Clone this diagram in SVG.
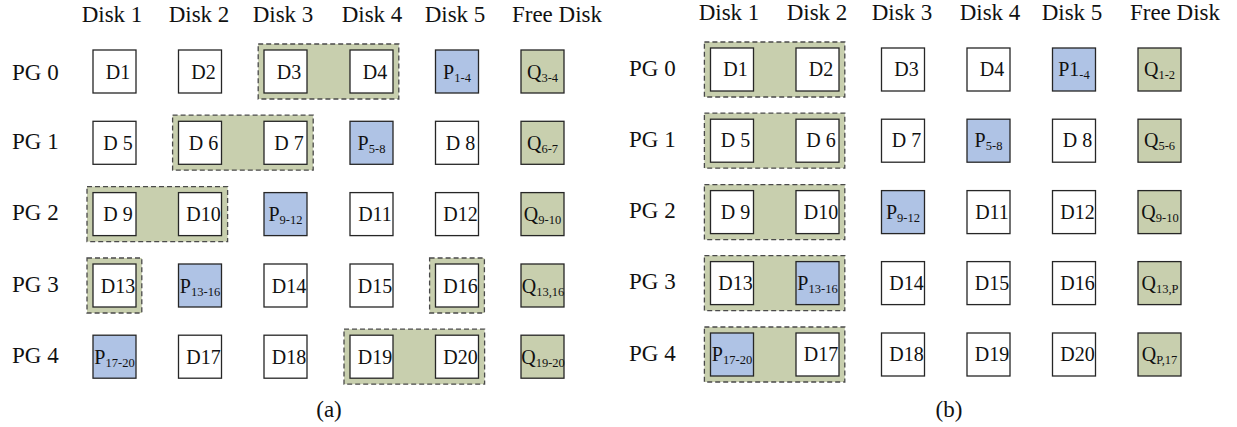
<svg xmlns="http://www.w3.org/2000/svg" width="1237" height="427" viewBox="0 0 1237 427">
<style>
.bg{fill:#fff}
.box{stroke:#262626;stroke-width:1.3}
.w{fill:#fff}.p{fill:#AFC3E5}.q{fill:#C8CFAE}
.grp{fill:#C8CFAE;stroke:#4a4a4a;stroke-width:1.3;stroke-dasharray:5 3}
text{font-family:"Liberation Serif","Times New Roman",serif;fill:#111}
.h{font-size:23px}
.c{font-size:20px}
.m{text-anchor:middle}
.s{font-size:12.5px}
</style>
<rect class="bg" x="0" y="0" width="1237" height="427"/>
<g id="headers">
<text class="h m" x="112" y="22">Disk 1</text>
<text class="h m" x="199" y="22">Disk 2</text>
<text class="h m" x="283" y="22">Disk 3</text>
<text class="h m" x="372" y="22">Disk 4</text>
<text class="h m" x="455" y="22">Disk 5</text>
<text class="h m" x="557" y="22">Free Disk</text>
<text class="h m" x="729" y="20">Disk 1</text>
<text class="h m" x="817" y="20">Disk 2</text>
<text class="h m" x="902" y="20">Disk 3</text>
<text class="h m" x="990" y="20">Disk 4</text>
<text class="h m" x="1072" y="20">Disk 5</text>
<text class="h m" x="1175" y="20">Free Disk</text>
<text class="h" x="12" y="80">PG 0</text>
<text class="h" x="12" y="149">PG 1</text>
<text class="h" x="12" y="220">PG 2</text>
<text class="h" x="12" y="292">PG 3</text>
<text class="h" x="12" y="363">PG 4</text>
<text class="h" x="629" y="76">PG 0</text>
<text class="h" x="629" y="147">PG 1</text>
<text class="h" x="629" y="218">PG 2</text>
<text class="h" x="629" y="289">PG 3</text>
<text class="h" x="629" y="361">PG 4</text>
<text class="h m" x="329" y="417">(a)</text>
<text class="h m" x="949" y="417">(b)</text>
</g>
<g id="groups-a">
<rect class="grp" x="258.2" y="44" width="140.6" height="55"/>
<rect class="grp" x="172.6" y="115.2" width="140.6" height="55"/>
<rect class="grp" x="87" y="186.6" width="140.6" height="55"/>
<rect class="grp" x="87" y="258" width="54.8" height="55"/>
<rect class="grp" x="429.6" y="258" width="54.8" height="55"/>
<rect class="grp" x="344" y="329.2" width="140.6" height="55"/>
</g>
<g id="groups-b">
<rect class="grp" x="704.4" y="42" width="140.4" height="55"/>
<rect class="grp" x="704.4" y="113.2" width="140.4" height="55"/>
<rect class="grp" x="704.4" y="184.6" width="140.4" height="55"/>
<rect class="grp" x="704.4" y="255.6" width="140.4" height="55"/>
<rect class="grp" x="704.4" y="327" width="140.4" height="55"/>
</g>
<g id="connectors"/>
<g id="a-pg0">
<g id="a-d1"><rect class="box w" x="93" y="50" width="43" height="43"/><text class="c m" x="118" y="78.5">D1</text></g>
<g id="a-d2"><rect class="box w" x="178.5" y="50" width="43" height="43"/><text class="c m" x="203.5" y="78.5">D2</text></g>
<g id="a-d3"><rect class="box w" x="264" y="50" width="43" height="43"/><text class="c m" x="289" y="78.5">D3</text></g>
<g id="a-d4"><rect class="box w" x="350" y="50" width="43" height="43"/><text class="c m" x="375" y="78.5">D4</text></g>
<g id="a-p1"><rect class="box p" x="435.5" y="50" width="43" height="43"/><text class="c m" x="457" y="78.5">P<tspan class="s" dy="3">1-4</tspan></text></g>
<g id="a-q1"><rect class="box q" x="521" y="50" width="43" height="43"/><text class="c m" x="542.5" y="78.5">Q<tspan class="s" dy="3">3-4</tspan></text></g>
</g>
<g id="a-pg1">
<g id="a-d5"><rect class="box w" x="93" y="121.3" width="43" height="43"/><text class="c m" x="118" y="149.8">D 5</text></g>
<g id="a-d6"><rect class="box w" x="178.5" y="121.3" width="43" height="43"/><text class="c m" x="203.5" y="149.8">D 6</text></g>
<g id="a-d7"><rect class="box w" x="264" y="121.3" width="43" height="43"/><text class="c m" x="289" y="149.8">D 7</text></g>
<g id="a-p2"><rect class="box p" x="350" y="121.3" width="43" height="43"/><text class="c m" x="371.5" y="149.8">P<tspan class="s" dy="3">5-8</tspan></text></g>
<g id="a-d8"><rect class="box w" x="435.5" y="121.3" width="43" height="43"/><text class="c m" x="460.5" y="149.8">D 8</text></g>
<g id="a-q2"><rect class="box q" x="521" y="121.3" width="43" height="43"/><text class="c m" x="542.5" y="149.8">Q<tspan class="s" dy="3">6-7</tspan></text></g>
</g>
<g id="a-pg2">
<g id="a-d9"><rect class="box w" x="93" y="192.6" width="43" height="43"/><text class="c m" x="118" y="221.1">D 9</text></g>
<g id="a-d10"><rect class="box w" x="178.5" y="192.6" width="43" height="43"/><text class="c m" x="203.5" y="221.1">D10</text></g>
<g id="a-p3"><rect class="box p" x="264" y="192.6" width="43" height="43"/><text class="c m" x="285.5" y="221.1">P<tspan class="s" dy="3">9-12</tspan></text></g>
<g id="a-d11"><rect class="box w" x="350" y="192.6" width="43" height="43"/><text class="c m" x="375" y="221.1">D11</text></g>
<g id="a-d12"><rect class="box w" x="435.5" y="192.6" width="43" height="43"/><text class="c m" x="460.5" y="221.1">D12</text></g>
<g id="a-q3"><rect class="box q" x="521" y="192.6" width="43" height="43"/><text class="c m" x="542.5" y="221.1">Q<tspan class="s" dy="3">9-10</tspan></text></g>
</g>
<g id="a-pg3">
<g id="a-d13"><rect class="box w" x="93" y="264" width="43" height="43"/><text class="c m" x="118" y="292.5">D13</text></g>
<g id="a-p4"><rect class="box p" x="178.5" y="264" width="43" height="43"/><text class="c m" x="200" y="292.5">P<tspan class="s" dy="3">13-16</tspan></text></g>
<g id="a-d14"><rect class="box w" x="264" y="264" width="43" height="43"/><text class="c m" x="289" y="292.5">D14</text></g>
<g id="a-d15"><rect class="box w" x="350" y="264" width="43" height="43"/><text class="c m" x="375" y="292.5">D15</text></g>
<g id="a-d16"><rect class="box w" x="435.5" y="264" width="43" height="43"/><text class="c m" x="460.5" y="292.5">D16</text></g>
<g id="a-q4"><rect class="box q" x="521" y="264" width="43" height="43"/><text class="c m" x="543" y="292.5">Q<tspan class="s" dy="3">13,16</tspan></text></g>
</g>
<g id="a-pg4">
<g id="a-p5"><rect class="box p" x="93" y="335.2" width="43" height="43"/><text class="c m" x="114.5" y="363.7">P<tspan class="s" dy="3">17-20</tspan></text></g>
<g id="a-d17"><rect class="box w" x="178.5" y="335.2" width="43" height="43"/><text class="c m" x="203.5" y="363.7">D17</text></g>
<g id="a-d18"><rect class="box w" x="264" y="335.2" width="43" height="43"/><text class="c m" x="289" y="363.7">D18</text></g>
<g id="a-d19"><rect class="box w" x="350" y="335.2" width="43" height="43"/><text class="c m" x="375" y="363.7">D19</text></g>
<g id="a-d20"><rect class="box w" x="435.5" y="335.2" width="43" height="43"/><text class="c m" x="460.5" y="363.7">D20</text></g>
<g id="a-q5"><rect class="box q" x="521" y="335.2" width="43" height="43"/><text class="c m" x="543" y="363.7">Q<tspan class="s" dy="3">19-20</tspan></text></g>
</g>
<g id="b-pg0">
<g id="b-d1"><rect class="box w" x="710.5" y="48" width="43" height="43"/><text class="c m" x="735.5" y="76">D1</text></g>
<g id="b-d2"><rect class="box w" x="796" y="48" width="43" height="43"/><text class="c m" x="821" y="76">D2</text></g>
<g id="b-d3"><rect class="box w" x="881.5" y="48" width="43" height="43"/><text class="c m" x="906.5" y="76">D3</text></g>
<g id="b-d4"><rect class="box w" x="967" y="48" width="43" height="43"/><text class="c m" x="992" y="76">D4</text></g>
<g id="b-p1"><rect class="box p" x="1052.5" y="48" width="43" height="43"/><text class="c m" x="1074" y="76">P1<tspan class="s" dy="3">-4</tspan></text></g>
<g id="b-q1"><rect class="box q" x="1138" y="48" width="43" height="43"/><text class="c m" x="1159.5" y="76">Q<tspan class="s" dy="3">1-2</tspan></text></g>
</g>
<g id="b-pg1">
<g id="b-d5"><rect class="box w" x="710.5" y="119.2" width="43" height="43"/><text class="c m" x="735.5" y="147.2">D 5</text></g>
<g id="b-d6"><rect class="box w" x="796" y="119.2" width="43" height="43"/><text class="c m" x="821" y="147.2">D 6</text></g>
<g id="b-d7"><rect class="box w" x="881.5" y="119.2" width="43" height="43"/><text class="c m" x="906.5" y="147.2">D 7</text></g>
<g id="b-p2"><rect class="box p" x="967" y="119.2" width="43" height="43"/><text class="c m" x="988.5" y="147.2">P<tspan class="s" dy="3">5-8</tspan></text></g>
<g id="b-d8"><rect class="box w" x="1052.5" y="119.2" width="43" height="43"/><text class="c m" x="1077.5" y="147.2">D 8</text></g>
<g id="b-q2"><rect class="box q" x="1138" y="119.2" width="43" height="43"/><text class="c m" x="1159.5" y="147.2">Q<tspan class="s" dy="3">5-6</tspan></text></g>
</g>
<g id="b-pg2">
<g id="b-d9"><rect class="box w" x="710.5" y="190.6" width="43" height="43"/><text class="c m" x="735.5" y="218.6">D 9</text></g>
<g id="b-d10"><rect class="box w" x="796" y="190.6" width="43" height="43"/><text class="c m" x="821" y="218.6">D10</text></g>
<g id="b-p3"><rect class="box p" x="881.5" y="190.6" width="43" height="43"/><text class="c m" x="903" y="218.6">P<tspan class="s" dy="3">9-12</tspan></text></g>
<g id="b-d11"><rect class="box w" x="967" y="190.6" width="43" height="43"/><text class="c m" x="992" y="218.6">D11</text></g>
<g id="b-d12"><rect class="box w" x="1052.5" y="190.6" width="43" height="43"/><text class="c m" x="1077.5" y="218.6">D12</text></g>
<g id="b-q3"><rect class="box q" x="1138" y="190.6" width="43" height="43"/><text class="c m" x="1160" y="218.6">Q<tspan class="s" dy="3">9-10</tspan></text></g>
</g>
<g id="b-pg3">
<g id="b-d13"><rect class="box w" x="710.5" y="261.6" width="43" height="43"/><text class="c m" x="735.5" y="289.6">D13</text></g>
<g id="b-p4"><rect class="box p" x="796" y="261.6" width="43" height="43"/><text class="c m" x="817.5" y="289.6">P<tspan class="s" dy="3">13-16</tspan></text></g>
<g id="b-d14"><rect class="box w" x="881.5" y="261.6" width="43" height="43"/><text class="c m" x="906.5" y="289.6">D14</text></g>
<g id="b-d15"><rect class="box w" x="967" y="261.6" width="43" height="43"/><text class="c m" x="992" y="289.6">D15</text></g>
<g id="b-d16"><rect class="box w" x="1052.5" y="261.6" width="43" height="43"/><text class="c m" x="1077.5" y="289.6">D16</text></g>
<g id="b-q4"><rect class="box q" x="1138" y="261.6" width="43" height="43"/><text class="c m" x="1160" y="289.6">Q<tspan class="s" dy="3">13,P</tspan></text></g>
</g>
<g id="b-pg4">
<g id="b-p5"><rect class="box p" x="710.5" y="333" width="43" height="43"/><text class="c m" x="732" y="361">P<tspan class="s" dy="3">17-20</tspan></text></g>
<g id="b-d17"><rect class="box w" x="796" y="333" width="43" height="43"/><text class="c m" x="821" y="361">D17</text></g>
<g id="b-d18"><rect class="box w" x="881.5" y="333" width="43" height="43"/><text class="c m" x="906.5" y="361">D18</text></g>
<g id="b-d19"><rect class="box w" x="967" y="333" width="43" height="43"/><text class="c m" x="992" y="361">D19</text></g>
<g id="b-d20"><rect class="box w" x="1052.5" y="333" width="43" height="43"/><text class="c m" x="1077.5" y="361">D20</text></g>
<g id="b-q5"><rect class="box q" x="1138" y="333" width="43" height="43"/><text class="c m" x="1159.5" y="361">Q<tspan class="s" dy="3">P,17</tspan></text></g>
</g>
</svg>
